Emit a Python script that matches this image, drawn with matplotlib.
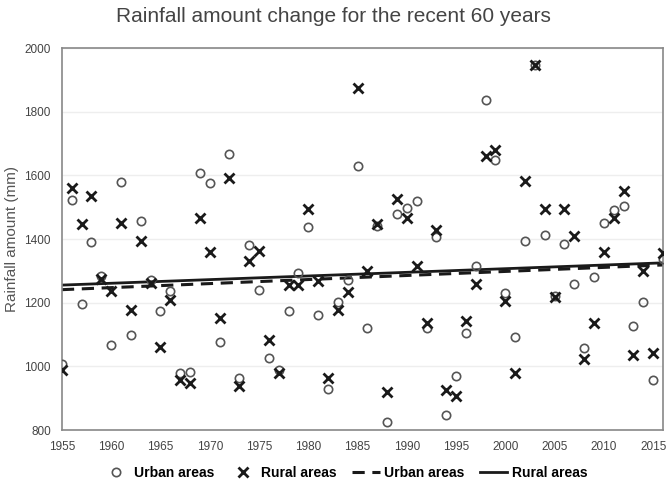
import numpy as np
import matplotlib
matplotlib.use('Agg')
import matplotlib.pyplot as plt

anos = list(range(1955, 2017))

urbano = [1008, 1524, 1195, 1390, 1285, 1068, 1579, 1099, 1456, 1272,
          1173, 1236, 978, 984, 1608, 1577, 1078, 1666, 965, 1383,
          1240, 1026, 989, 1173, 1294, 1437, 1162, 929, 1202, 1271,
          1629, 1122, 1440, 826, 1479, 1498, 1519, 1120, 1406, 847,
          971, 1104, 1314, 1836, 1650, 1230, 1093, 1395, 1948, 1412,
          1222, 1385, 1259, 1059, 1280, 1451, 1493, 1503, 1126, 1202,
          957, 1339]

rural = [990, 1561, 1446, 1535, 1275, 1236, 1451, 1178, 1393, 1262,
         1062, 1210, 957, 947, 1465, 1360, 1152, 1593, 940, 1332,
         1364, 1083, 978, 1255, 1255, 1496, 1269, 965, 1178, 1234,
         1876, 1299, 1446, 919, 1527, 1465, 1314, 1136, 1430, 926,
         908, 1143, 1259, 1661, 1679, 1206, 978, 1583, 1948, 1496,
         1218, 1496, 1409, 1024, 1136, 1360, 1465, 1551, 1036, 1299,
         1041, 1356]

plt.rcParams['font.family'] = ['Liberation Sans', 'DejaVu Sans']

fig = plt.figure(figsize=(6.66, 4.91), dpi=100)
ax = fig.add_axes([0.093, 0.124, 0.9025, 0.778])

x = np.array(anos)
ax.plot(x, urbano, linestyle='none', marker='o', markersize=6,
        markerfacecolor='none', markeredgecolor='#555555', markeredgewidth=1.2,
        label='Urban areas', zorder=3)
ax.plot(x, rural, linestyle='none', marker='x', markersize=6.5,
        markeredgecolor='#1a1a1a', markeredgewidth=2.0, label='Rural areas', zorder=4)

# linhas de tendencia (regressao linear)
a_u, b_u = np.polyfit(x, urbano, 1)
a_r, b_r = np.polyfit(x, rural, 1)
xt = np.array([1955, 2016])
ax.plot(xt, a_u * xt + b_u, color='#1a1a1a', linestyle=(0, (4, 2.5)), linewidth=2.2,
        label='Urban areas', zorder=2)
ax.plot(xt, a_r * xt + b_r, color='#1a1a1a', linewidth=2.0, label='Rural areas', zorder=2)

ax.set_xlim(1955, 2016)
ax.set_ylim(800, 2000)
ax.set_xticks(range(1955, 2016, 5))
ax.set_yticks(range(800, 2001, 200))
ax.tick_params(length=0, labelsize=8.5, colors='#444444', pad=8)
ax.yaxis.grid(True, color='#eeeeee', linewidth=1)
ax.set_axisbelow(True)
for lado in ax.spines.values():
    lado.set_color('#888888')
    lado.set_linewidth(1.2)

ax.set_ylabel('Rainfall amount (mm)', fontsize=11, color='#555555', labelpad=4)
fig.suptitle('Rainfall amount change for the recent 60 years', x=0.5, y=0.985,
             fontsize=15, color='#444444')

ax.legend(loc='upper center', bbox_to_anchor=(0.47, -0.06), ncol=4, frameon=False,
          handlelength=2.0, handletextpad=0.3, columnspacing=1.1,
          prop={'weight': 'bold', 'size': 10})

fig.savefig('out.png', dpi=100)
